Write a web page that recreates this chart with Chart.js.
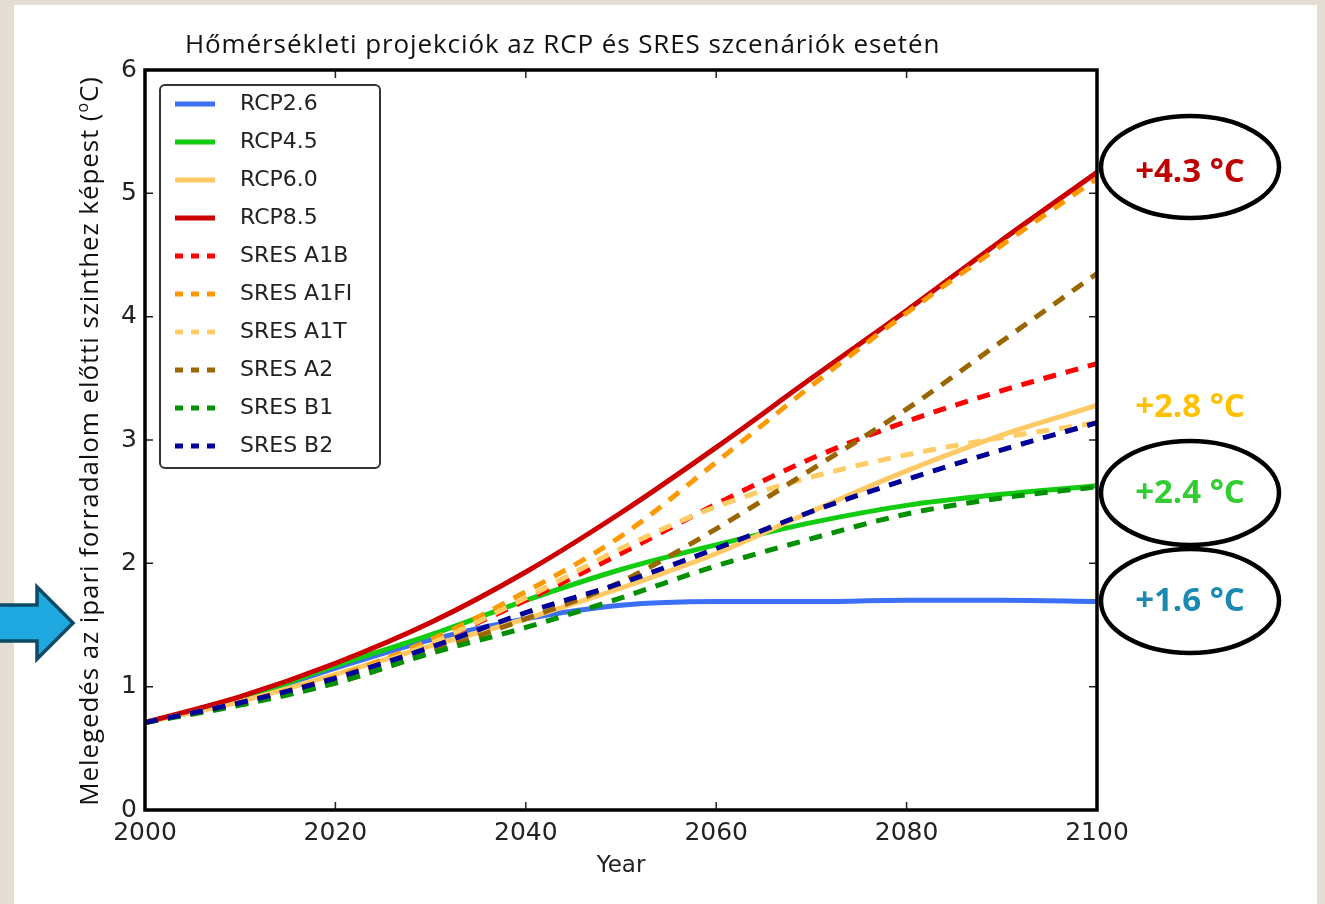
<!DOCTYPE html>
<html lang="hu">
<head>
<meta charset="utf-8">
<title>Hőmérsékleti projekciók</title>
<script src="https://cdn.jsdelivr.net/npm/chart.js@4.4.1/dist/chart.umd.min.js"></script>
<style>
  body { margin: 0; background: #e3ddd3; width: 1325px; height: 904px; overflow: hidden; position: relative; }
  #panel { position: absolute; left: 14px; top: 5px; width: 1303px; height: 899px; background: #fff; }
  #chart { position: absolute; left: 0; top: 0; }
  .title { position: absolute; left: 185px; top: 25px; font: 26px "Open Sans", sans-serif; letter-spacing: 0.9px; color: #111; white-space: nowrap; }
  .ylabel { position: absolute; left: -312px; top: 423px; width: 800px; text-align: center; font: 26px "Open Sans", sans-serif; letter-spacing: 0.9px; color: #111; white-space: nowrap; transform: rotate(-90deg); }
  .ylabel sup { font-size: 16px; }
  svg.deco { position: absolute; left: 0; top: 0; }
  .badge { position: absolute; width: 180px; text-align: center; font: bold 33px "Open Sans", sans-serif; white-space: nowrap; }
</style>
</head>
<body>
<div id="panel"></div>
<canvas id="chart" width="1325" height="904"></canvas>
<div class="title">Hőmérsékleti projekciók az RCP és SRES szcenáriók esetén</div>
<div class="ylabel">Melegedés az ipari forradalom előtti szinthez képest (<sup>o</sup>C)</div>
<svg class="deco" width="1325" height="904">
  <polygon points="-4,605 37,605 37,587 73,623 37,659 37,641 -4,641" fill="#1fa8df" stroke="#0c4a66" stroke-width="3.5" stroke-linejoin="miter"/>
  <ellipse cx="1190" cy="167" rx="89" ry="51" fill="none" stroke="#000" stroke-width="4.5"/>
  <ellipse cx="1190" cy="493" rx="89" ry="52" fill="none" stroke="#000" stroke-width="4.5"/>
  <ellipse cx="1190" cy="601" rx="89" ry="52" fill="none" stroke="#000" stroke-width="4.5"/>
</svg>
<div class="badge" style="left:1100px;top:147px;color:#c00000">+4.3 °C</div>
<div class="badge" style="left:1100px;top:382px;color:#ffc000">+2.8 °C</div>
<div class="badge" style="left:1100px;top:468px;color:#33cc33">+2.4 °C</div>
<div class="badge" style="left:1100px;top:576px;color:#1b8ab3">+1.6 °C</div>
<script>
// Adatok (leolvasva az ábráról)
const years = [2000, 2010, 2020, 2030, 2040, 2050, 2060, 2070, 2080, 2090, 2100]
const rcp26 = [0.71, 0.90, 1.15, 1.38, 1.55, 1.66, 1.69, 1.69, 1.70, 1.70, 1.69]
const rcp45 = [0.71, 0.90, 1.17, 1.42, 1.70, 1.95, 2.15, 2.33, 2.47, 2.56, 2.63]
const rcp60 = [0.71, 0.88, 1.10, 1.33, 1.55, 1.80, 2.08, 2.42, 2.75, 3.04, 3.28]
const rcp85 = [0.71, 0.92, 1.19, 1.52, 1.93, 2.41, 2.94, 3.50, 4.05, 4.62, 5.17]
const sresA1B = [0.71, 0.87, 1.07, 1.35, 1.70, 2.08, 2.48, 2.85, 3.15, 3.40, 3.62]
const sresA1FI = [0.71, 0.87, 1.08, 1.38, 1.77, 2.22, 2.82, 3.44, 4.03, 4.58, 5.12]
const sresA1T = [0.71, 0.87, 1.07, 1.35, 1.72, 2.12, 2.46, 2.70, 2.88, 3.02, 3.14]
const sresA2 = [0.71, 0.86, 1.03, 1.28, 1.55, 1.85, 2.28, 2.76, 3.25, 3.80, 4.35]
const sresB1 = [0.71, 0.85, 1.03, 1.27, 1.48, 1.72, 1.98, 2.20, 2.40, 2.53, 2.62]
const sresB2 = [0.71, 0.87, 1.07, 1.32, 1.60, 1.84, 2.12, 2.42, 2.68, 2.92, 3.14]
const seriesNames = ["RCP2.6", "RCP4.5", "RCP6.0", "RCP8.5", "SRES A1B", "SRES A1FI", "SRES A1T", "SRES A2", "SRES B1", "SRES B2"]
const xTicks = [2000, 2020, 2040, 2060, 2080, 2100]
const yTicks = [0, 1, 2, 3, 4, 5, 6]

const seriesValues = [rcp26, rcp45, rcp60, rcp85, sresA1B, sresA1FI, sresA1T, sresA2, sresB1, sresB2]
const seriesColors = ["#3b6ff5", "#11cc11", "#ffc966", "#cc0000", "#ff0000", "#ff9900", "#ffcc66", "#996600", "#009000", "#000099"]
const dashed = [false, false, false, false, true, true, true, true, true, true]

const tickFont = { family: "'DejaVu Sans', sans-serif", size: 25 }

// Jelmagyarázat mintavonal (kis vászon)
function legendSample(color, dash) {
  const c = document.createElement("canvas")
  c.width = 54
  c.height = 8
  const ctx = c.getContext("2d")
  ctx.strokeStyle = color
  ctx.lineWidth = 5
  ctx.setLineDash(dash ? [8, 8] : [])
  ctx.beginPath()
  ctx.moveTo(0, 4)
  ctx.lineTo(40, 4)
  ctx.stroke()
  return c
}

const datasets = seriesNames.map((name, i) => ({
  label: name,
  data: years.map((yr, j) => ({ x: yr, y: seriesValues[i][j] })),
  borderColor: seriesColors[i],
  backgroundColor: seriesColors[i],
  borderWidth: 5,
  borderDash: dashed[i] ? [13, 10] : [],
  borderCapStyle: "butt",
  pointRadius: 0,
  pointHoverRadius: 0,
  pointStyle: legendSample(seriesColors[i], dashed[i]),
  cubicInterpolationMode: "monotone",
  order: seriesNames.length - i,
}))

// Keret, befelé álló osztások, jelmagyarázat doboza
const framePlugin = {
  id: "frame",
  afterLayout(chart) {
    const lg = chart.legend
    const ca = chart.chartArea
    if (!lg) return
    lg.left = ca.left + 14
    lg.top = ca.top + 7
    lg.right = ca.right
    lg.bottom = ca.bottom
    lg.width = lg.right - lg.left
    lg.height = lg.bottom - lg.top
  },
  beforeDraw(chart) {
    const ctx = chart.ctx
    const ca = chart.chartArea
    ctx.save()
    ctx.fillStyle = "#fff"
    ctx.strokeStyle = "#333"
    ctx.lineWidth = 2
    ctx.beginPath()
    ctx.roundRect(ca.left + 15, ca.top + 15, 220, 383, 5)
    ctx.fill()
    ctx.stroke()
    ctx.restore()
  },
  afterDraw(chart) {
    const ctx = chart.ctx
    const ca = chart.chartArea
    const xs = chart.scales.x
    const ys = chart.scales.y
    ctx.save()
    ctx.strokeStyle = "#222"
    ctx.lineWidth = 1.5
    ctx.beginPath()
    xTicks.forEach((t) => {
      const px = xs.getPixelForValue(t)
      ctx.moveTo(px, ca.bottom)
      ctx.lineTo(px, ca.bottom - 8)
      ctx.moveTo(px, ca.top)
      ctx.lineTo(px, ca.top + 8)
    })
    yTicks.forEach((t) => {
      const py = ys.getPixelForValue(t)
      ctx.moveTo(ca.left, py)
      ctx.lineTo(ca.left + 8, py)
      ctx.moveTo(ca.right, py)
      ctx.lineTo(ca.right - 8, py)
    })
    ctx.stroke()
    ctx.strokeStyle = "#000"
    ctx.lineWidth = 3.5
    ctx.strokeRect(ca.left, ca.top, ca.right - ca.left, ca.bottom - ca.top)
    ctx.restore()
  },
}

new Chart(document.getElementById("chart"), {
  type: "line",
  data: { datasets },
  options: {
    responsive: false,
    animation: false,
    events: [],
    layout: { padding: { left: 0, top: 70, right: 228, bottom: 14 } },
    plugins: {
      title: { display: false },
      tooltip: { enabled: false },
      legend: {
        position: "chartArea",
        align: "start",
        labels: {
          usePointStyle: true,
          pointStyleWidth: 54,
          padding: 16,
          color: "#222",
          font: { family: "'DejaVu Sans', sans-serif", size: 22 },
          sort: (a, b) => a.datasetIndex - b.datasetIndex,
        },
      },
    },
    scales: {
      x: {
        type: "linear",
        min: 2000,
        max: 2100,
        afterFit: (scale) => { scale.height = 80 },
        afterBuildTicks: (scale) => { scale.ticks = xTicks.map((v) => ({ value: v })) },
        grid: { display: false, drawTicks: false },
        border: { display: false },
        ticks: { font: tickFont, color: "#222", padding: 8, maxRotation: 0, callback: (v) => String(v) },
        title: { display: true, text: "Year", color: "#222", font: { family: "'DejaVu Sans', sans-serif", size: 23 }, padding: { top: 0, bottom: 10 } },
      },
      y: {
        min: 0,
        max: 6,
        afterFit: (scale) => { scale.width = 145 },
        afterBuildTicks: (scale) => { scale.ticks = yTicks.map((v) => ({ value: v })) },
        grid: { display: false, drawTicks: false },
        border: { display: false },
        ticks: { font: tickFont, color: "#222", padding: 8 },
      },
    },
  },
  plugins: [framePlugin],
})
</script>
</body>
</html>
